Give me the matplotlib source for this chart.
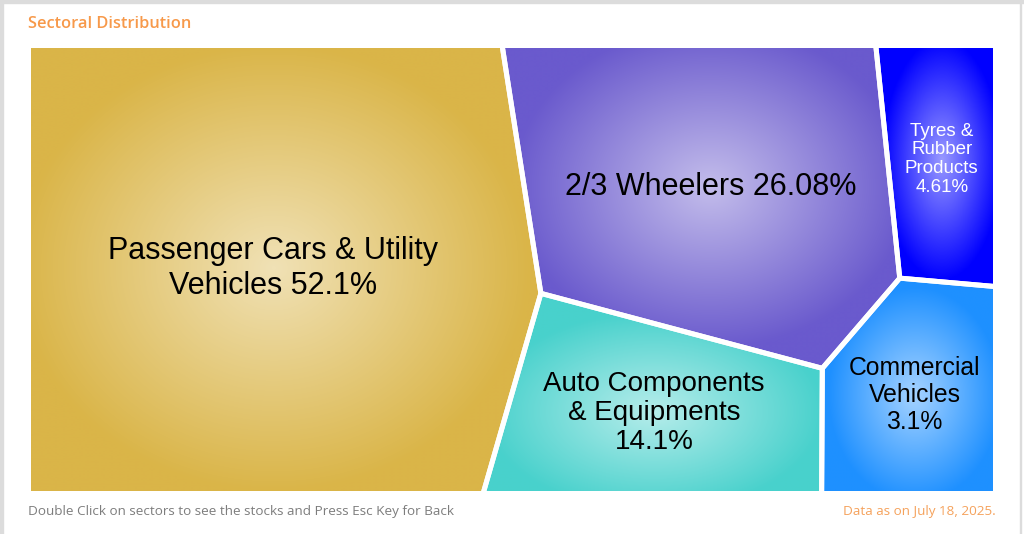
import numpy as np
import matplotlib.pyplot as plt
from matplotlib.patches import Polygon, Rectangle
from matplotlib.colors import to_rgb

# data
sectors = ["Passenger Cars & Utility\nVehicles", "2/3 Wheelers", "Tyres &\nRubber\nProducts",
           "Auto Components\n& Equipments", "Commercial\nVehicles"]
shares = [52.1, 26.08, 4.61, 14.1, 3.1]
title = "Sectoral Distribution"
footer_left = "Double Click on sectors to see the stocks and Press Esc Key for Back"
footer_right = "Data as on July 18, 2025."

# styles / layout
colors = ["#DAB548", "#6A5ACD", "#0000FF", "#48D1CC", "#1E90FF"]
text_colors = ["black", "black", "white", "black", "black"]
pct_sep = [" ", " ", "\n", "\n", "\n"]
font_sizes = [22, 22, 13.5, 20, 17.8]
line_sp = [1.22, 1.2, 1.15, 1.15, 1.15]
# sites of the weighted voronoi (power) diagram, in pixel space
seeds = np.array([[47, 268], [674, 170], [1004, 136], [605, 429], [978, 431]], float)
x0, x1, y0, y1 = 28.5, 995.5, 45.5, 493.5
box = np.array([[x0, y0], [x1, y0], [x1, y1], [x0, y1]], float)
max_iter = 8  # the voronoi-map style solver stops early, like the original


def clip(poly, n, c):
    # keep the part of poly where n.p <= c
    out = []
    k = len(poly)
    for i in range(k):
        p, q = poly[i], poly[(i + 1) % k]
        dp, dq = n @ p - c, n @ q - c
        if dp <= 0:
            out.append(p)
        if dp * dq < 0:
            t = dp / (dp - dq)
            out.append(p + t * (q - p))
    return np.array(out) if out else np.zeros((0, 2))


def power_cells(sites, w):
    res = []
    for i in range(len(sites)):
        poly = box.copy()
        for j in range(len(sites)):
            if i == j or len(poly) < 3:
                continue
            n = 2 * (sites[j] - sites[i])
            c = sites[j] @ sites[j] - sites[i] @ sites[i] - w[j] + w[i]
            poly = clip(poly, n, c)
        res.append(poly)
    return res


def area(poly):
    if len(poly) < 3:
        return 0.0
    x, y = poly[:, 0], poly[:, 1]
    return 0.5 * abs(np.dot(x, np.roll(y, -1)) - np.dot(y, np.roll(x, -1)))


def centroid(poly):
    x, y = poly[:, 0], poly[:, 1]
    xn, yn = np.roll(x, -1), np.roll(y, -1)
    cr = x * yn - xn * y
    a = cr.sum() / 2
    return np.array([((x + xn) * cr).sum() / (6 * a), ((y + yn) * cr).sum() / (6 * a)])


def overweight(sites, w):
    while True:
        fixed = False
        for i in range(len(w)):
            for j in range(i + 1, len(w)):
                hi, lo = (i, j) if w[i] > w[j] else (j, i)
                d2 = ((sites[i] - sites[j]) ** 2).sum()
                if d2 < w[hi] - w[lo]:
                    w[hi] = max(d2 + w[lo] / 2, 1e-6)
                    fixed = True
                    break
            if fixed:
                break
        if not fixed:
            return w


vals = np.array(shares)
total = area(box)
target = total * vals / vals.sum()
weights = np.full(len(vals), total / len(vals) / 2)
for _ in range(max_iter):
    A = np.array([area(c) for c in power_cells(seeds, weights)])
    ratio = np.clip(target / np.maximum(A, 1e-9), 0.5, 1.5)
    weights = overweight(seeds, np.maximum(weights * ratio, 1e-6))
cells = power_cells(seeds, weights)

fig = plt.figure(figsize=(10.24, 5.34), dpi=100)
ax = fig.add_axes([0, 0, 1, 1])
ax.set_xlim(0, 1024)
ax.set_ylim(534, 0)
ax.axis("off")

for poly, col, tcol, name, v, sep, fs, ls in zip(cells, colors, text_colors, sectors, shares,
                                                 pct_sep, font_sizes, line_sp):
    cx, cy = centroid(poly)
    bx0, by0 = poly.min(axis=0)
    bx1, by1 = poly.max(axis=0)
    xs = np.linspace(bx0, bx1, int(bx1 - bx0) + 2)
    ys = np.linspace(by0, by1, int(by1 - by0) + 2)
    X, Y = np.meshgrid(xs, ys)
    rx, ry = 0.5 * (bx1 - bx0), 0.5 * (by1 - by0)
    t = np.clip(np.sqrt(((X - cx) / rx) ** 2 + ((Y - cy) / ry) ** 2), 0, 1)
    base = np.array(to_rgb(col))
    mix = 0.6 * (1 - t)[..., None]
    img = base + (1 - base) * mix
    clip_patch = Polygon(poly, closed=True, facecolor="none", edgecolor="none",
                         transform=ax.transData)
    ax.add_patch(clip_patch)
    im = ax.imshow(img, extent=(bx0, bx1, by1, by0), origin="upper",
                   interpolation="bilinear", zorder=1)
    im.set_clip_path(clip_patch)
    ax.add_patch(Polygon(poly, closed=True, fill=False, edgecolor="white",
                         lw=3.6, joinstyle="round", zorder=2))
    ax.text(cx, cy, f"{name}{sep}{v:g}%", ha="center", va="center", fontsize=fs,
            family="Liberation Sans", color=tcol, linespacing=ls, zorder=3)

ax.set_xlim(0, 1024)
ax.set_ylim(534, 0)

# frame of the card
ax.add_patch(Rectangle((0, 0), 1024, 2.5, color="#dcdcdc", zorder=4))
ax.add_patch(Rectangle((0, 0), 2.5, 534, color="#dcdcdc", zorder=4))
ax.add_patch(Rectangle((1019.5, 0), 1.3, 534, color="#dcdcdc", zorder=4))

ax.text(28, 24, title, ha="left", va="center", fontsize=11.8, family="Open Sans",
        fontweight="semibold", color="#F7994A")
ax.text(28, 512, footer_left, ha="left", va="center", fontsize=9.7, family="Open Sans",
        color="#7d7d7d")
ax.text(996, 512, footer_right, ha="right", va="center", fontsize=9.7, family="Open Sans",
        color="#F5A25C")

fig.savefig("out.png", dpi=100)
